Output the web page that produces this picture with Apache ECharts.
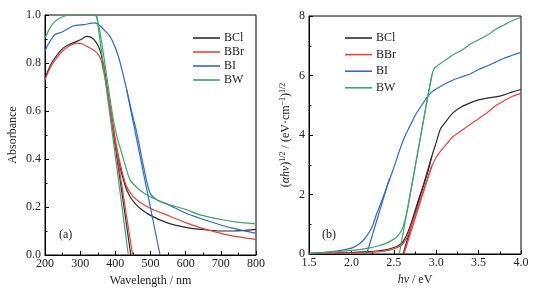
<!DOCTYPE html>
<html><head><meta charset="utf-8">
<script src="https://cdn.jsdelivr.net/npm/echarts@6/dist/echarts.min.js"></script>
<style>html,body{margin:0;padding:0;background:#fff}#c{width:535px;height:294px}</style>
</head><body><div id="c"></div>
<script>
// ---- Panel (a): absorbance vs wavelength ----
const names = ['BCl', 'BBr', 'BI', 'BW'];
const colors = ['#2b2b2b', '#e8413c', '#2d6cc0', '#3da46a'];

const bclWl = [200,215,230,250,270,290,305,317,330,340,352,360,366,373,380,390,399,408,418,430,442,456,470,500,546,600,641,700,736,800];
const bclA  = [0.737,0.79,0.825,0.86,0.878,0.89,0.90,0.911,0.908,0.896,0.87,0.835,0.79,0.73,0.66,0.57,0.48,0.40,0.34,0.28,0.243,0.215,0.195,0.165,0.135,0.115,0.107,0.10,0.10,0.107];
const bclTanWl = [366, 444];
const bclTanA  = [0.80, 0.0];

const bbrWl = [200,215,230,250,270,290,305,318,337,352,360,366,373,380,390,399,408,418,432,451,470,499,546,600,641,700,736,800];
const bbrA  = [0.73,0.78,0.815,0.85,0.872,0.883,0.88,0.87,0.855,0.835,0.81,0.77,0.72,0.66,0.57,0.49,0.42,0.355,0.285,0.243,0.22,0.195,0.167,0.135,0.114,0.09,0.079,0.065];
const bbrTanWl = [366, 449];
const bbrTanA  = [0.79, 0.0];

const biWl = [200,210,228,250,281,310,342,356,370,385,397,408,420,432,446,461,480,499,520,546,600,641,700,736,800];
const biA  = [0.85,0.88,0.918,0.93,0.955,0.96,0.967,0.955,0.935,0.91,0.875,0.83,0.765,0.69,0.60,0.51,0.37,0.257,0.228,0.213,0.175,0.153,0.125,0.111,0.09];
const biTanWl = [432, 527];
const biTanA  = [0.69, 0.0];

const bwWl = [200,212,224,240,255,266,290,320,340,347,355,365,375,385,395,405,415,425,442,470,499,546,600,641,700,736,800];
const bwA  = [0.904,0.94,0.967,0.985,0.995,1.0,1.0,1.0,1.0,0.99,0.94,0.85,0.75,0.65,0.56,0.49,0.44,0.39,0.313,0.27,0.243,0.213,0.19,0.167,0.148,0.139,0.13];
const bwTanWl = [347, 437];
const bwTanA  = [1.0, 0.0];

const wlTicks = [200, 800, 100];
const absTicks = [0, 1, 0.2];

// ---- Panel (b): Tauc plot ----
const bclE = [1.5,1.75,2.0,2.2,2.3,2.4,2.5,2.55,2.6,2.65,2.7,2.75,2.8,2.85,2.9,2.95,3.0,3.05,3.1,3.2,3.3,3.4,3.5,3.6,3.7,3.8,3.9,4.0];
const bclT = [0.01,0.03,0.05,0.08,0.1,0.14,0.22,0.28,0.38,0.62,1.0,1.45,1.9,2.3,2.75,3.3,3.75,4.2,4.4,4.75,4.95,5.08,5.18,5.24,5.28,5.35,5.45,5.53];
const bclTanE = [2.61, 2.95];
const bclTanT = [0.0, 3.3];

const bbrE = [1.5,1.75,2.0,2.2,2.3,2.4,2.5,2.55,2.6,2.65,2.7,2.75,2.8,2.85,2.9,2.95,3.0,3.05,3.1,3.2,3.3,3.4,3.5,3.6,3.7,3.8,3.9,4.0];
const bbrT = [0.0,0.02,0.03,0.05,0.07,0.1,0.17,0.23,0.32,0.52,0.9,1.3,1.72,2.15,2.55,2.95,3.25,3.45,3.62,3.95,4.15,4.35,4.55,4.75,4.98,5.15,5.3,5.4];
const bbrTanE = [2.62, 2.95];
const bbrTanT = [0.0, 3.0];

const biE = [1.5,1.75,2.0,2.1,2.18,2.25,2.3,2.36,2.42,2.5,2.57,2.63,2.69,2.76,2.83,2.9,2.95,3.0,3.09,3.2,3.3,3.4,3.5,3.6,3.7,3.8,3.9,4.0];
const biT = [0.02,0.07,0.2,0.35,0.6,0.95,1.37,1.8,2.27,2.9,3.5,3.95,4.3,4.7,5.0,5.3,5.45,5.55,5.7,5.85,5.95,6.05,6.2,6.32,6.45,6.58,6.68,6.78];
const biTanE = [2.18, 2.45];
const biTanT = [0.0, 2.55];

const bwE = [1.5,1.75,2.0,2.2,2.3,2.4,2.5,2.55,2.6,2.65,2.7,2.75,2.8,2.85,2.9,2.95,2.97,3.0,3.1,3.2,3.3,3.4,3.5,3.6,3.7,3.8,3.9,4.0];
const bwT = [0.02,0.06,0.12,0.2,0.26,0.35,0.5,0.62,0.85,1.35,2.1,2.9,3.7,4.5,5.3,6.0,6.2,6.3,6.5,6.7,6.85,7.05,7.2,7.35,7.55,7.7,7.85,7.95];
const bwTanE = [2.565, 2.95];
const bwTanT = [0.0, 6.05];

const eTicks = [1.5, 4.0, 0.5];
const tTicks = [0, 8, 2];

const FONT = '"Liberation Serif", "DejaVu Serif", serif';

function pairs(xs, ys) { return xs.map((x, i) => [x, ys[i]]); }

const left = [
  [bclWl, bclA, bclTanWl, bclTanA],
  [bbrWl, bbrA, bbrTanWl, bbrTanA],
  [biWl, biA, biTanWl, biTanA],
  [bwWl, bwA, bwTanWl, bwTanA]
];
const right = [
  [bclE, bclT, bclTanE, bclTanT],
  [bbrE, bbrT, bbrTanE, bbrTanT],
  [biE, biT, biTanE, biTanT],
  [bwE, bwT, bwTanE, bwTanT]
];

const series = [];
function addSeries(sets, axisIdx) {
  sets.forEach((s, i) => {
    series.push({
      name: names[i], type: 'line', xAxisIndex: axisIdx, yAxisIndex: axisIdx,
      data: pairs(s[0], s[1]), showSymbol: false, smooth: 0.25,
      lineStyle: { color: colors[i], width: 1.2 }, itemStyle: { color: colors[i] },
      z: 2 + i, animation: false
    });
    series.push({
      name: names[i], type: 'line', xAxisIndex: axisIdx, yAxisIndex: axisIdx,
      data: pairs(s[2], s[3]), showSymbol: false,
      lineStyle: { color: colors[i], width: 1.2 }, itemStyle: { color: colors[i] },
      z: 2 + i, animation: false
    });
  });
}
addSeries(left, 0);
addSeries(right, 1);

const nameRich = {
  p: { fontFamily: FONT, fontSize: 12, color: '#222', lineHeight: 14 },
  i: { fontFamily: FONT, fontSize: 12, color: '#222', fontStyle: 'italic', lineHeight: 14 },
  s: { fontFamily: FONT, fontSize: 8, color: '#222', verticalAlign: 'top', lineHeight: 14, padding: [0, 0, 6, 0] }
};

function xAx(gi, t, name, dec) {
  return {
    type: 'value', gridIndex: gi, min: t[0], max: t[1], interval: t[2],
    name: name, nameLocation: 'middle', nameGap: 13,
    nameTextStyle: { fontFamily: FONT, fontSize: 12, color: '#222', rich: nameRich },
    axisLine: { show: true, lineStyle: { color: '#000', width: 1 } },
    axisTick: { show: true, inside: true, length: 4, lineStyle: { color: '#000' } },
    minorTick: { show: true, splitNumber: 2, length: 2.5, lineStyle: { color: '#000' } },
    splitLine: { show: false },
    axisLabel: { fontFamily: FONT, fontSize: 12, color: '#222', margin: 3,
      formatter: v => v.toFixed(dec) }
  };
}
function yAx(gi, t, name, dec, gap) {
  return {
    type: 'value', gridIndex: gi, min: t[0], max: t[1], interval: t[2],
    name: name, nameLocation: 'middle', nameGap: gap, nameRotate: 90,
    nameTextStyle: { fontFamily: FONT, fontSize: 12, color: '#222', rich: nameRich },
    axisLine: { show: true, lineStyle: { color: '#000', width: 1 } },
    axisTick: { show: true, inside: true, length: 4, lineStyle: { color: '#000' } },
    minorTick: { show: true, splitNumber: 2, length: 2.5, lineStyle: { color: '#000' } },
    splitLine: { show: false },
    axisLabel: { fontFamily: FONT, fontSize: 12, color: '#222', margin: 4,
      formatter: v => v.toFixed(dec) }
  };
}

function legend(l, t, gap) {
  return {
    data: names, orient: 'vertical', left: l, top: t, itemGap: gap,
    icon: 'rect', itemWidth: 27, itemHeight: 1.6,
    textStyle: { fontFamily: FONT, fontSize: 12, color: '#222', padding: [0, 0, 0, -1] },
    selectedMode: false
  };
}

const chart = echarts.init(document.getElementById('c'), null, { renderer: 'canvas' });
chart.setOption({
  backgroundColor: '#fff',
  animation: false,
  grid: [
    { left: 45, top: 15, width: 211, height: 240, show: true, borderColor: '#000', borderWidth: 1, backgroundColor: 'transparent' },
    { left: 309, top: 16, width: 212, height: 238, show: true, borderColor: '#000', borderWidth: 1, backgroundColor: 'transparent' }
  ],
  xAxis: [
    xAx(0, wlTicks, 'Wavelength / nm', 0),
    xAx(1, eTicks, '{i|hν}{p| / eV}', 1)
  ],
  yAxis: [
    yAx(0, absTicks, 'Absorbance', 1, 26),
    yAx(1, tTicks, '{p|(}{i|αhν}{p|)}{s|1/2}{p| / (eV·cm}{s|−1}{p|)}{s|1/2}', 0, 16)
  ],
  legend: [legend(188, 27, 2), legend(340, 27, 4.6)],
  graphic: [
    { type: 'text', left: 59, top: 229, style: { text: '(a)', font: '12px ' + FONT, fill: '#222' } },
    { type: 'text', left: 322, top: 229, style: { text: '(b)', font: '12px ' + FONT, fill: '#222' } }
  ],
  series: series
});
</script>
</body></html>
